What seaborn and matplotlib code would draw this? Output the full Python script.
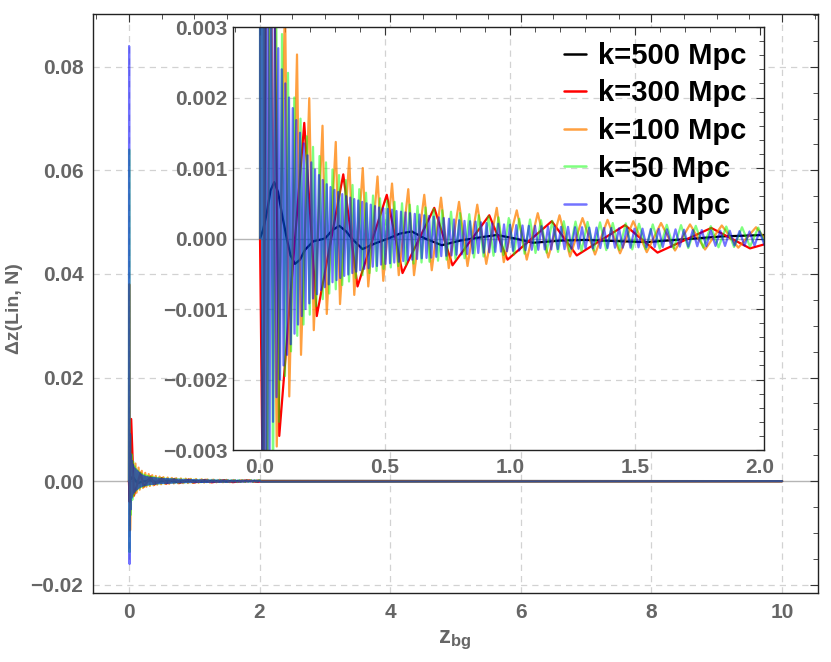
import numpy as np
import pandas as pd
import seaborn as sns
import matplotlib.pyplot as plt
from matplotlib.lines import Line2D
from matplotlib.ticker import MultipleLocator, FuncFormatter

sns.set_style("white")
plt.rcParams.update({
    "font.family": ["Liberation Sans", "DejaVu Sans"],
    "font.weight": "bold",
    "mathtext.fontset": "custom",
    "mathtext.rm": "Liberation Sans:bold",
    "mathtext.it": "Liberation Sans:bold",
    "mathtext.bf": "Liberation Sans:bold",
})

# values in units of 1e-3, turning points
z_end = 10.0

k500_z = [0.0, 0.012, 0.027, 0.042, 0.057, 0.072, 0.087, 0.107, 0.122, 0.14, 0.16, 0.18, 0.213,
          0.26, 0.29, 0.317, 0.345, 0.367, 0.41, 0.46, 0.513, 0.56, 0.607, 0.66, 0.727, 0.8, 0.85,
          0.947, 1.02, 1.093, 1.2, 1.3, 1.45, 1.55, 1.7, 1.85, 2.02]
k500_v = [0.0, 0.12, 0.36, 0.68, 0.80, 0.66, 0.36, 0.0, -0.24, -0.36, -0.30, -0.16, -0.04,
          0.0, 0.12, 0.18, 0.10, 0.0, -0.15, -0.07, 0.0, 0.07, 0.10, 0.0, -0.095, -0.03, 0.0,
          0.05, 0.0, -0.06, -0.03, -0.02, -0.04, -0.05, -0.01, 0.03, 0.05]

k300_z = [0.0, 0.012, 0.035, 0.077, 0.177, 0.227, 0.333, 0.390, 0.507, 0.570, 0.697, 0.770, 0.917,
          0.990, 1.167, 1.267, 1.460, 1.590, 1.805, 1.960, 2.03]
k300_v = [0.0, -4.0, 12.0, -2.80, 1.64, -1.10, 0.91, -0.68, 0.62, -0.49, 0.435, -0.38, 0.33,
          -0.30, 0.245, -0.24, 0.19, -0.20, 0.15, -0.14, -0.07]

k100_z = [0.0, 0.006, 0.018, 0.040, 0.067, 0.100, 0.117, 0.148, 0.164, 0.197, 0.215, 0.250, 0.267,
          0.303, 0.320, 0.357, 0.377, 0.411, 0.433, 0.470, 0.493, 0.528, 0.555, 0.593, 0.616, 0.657,
          0.687, 0.724, 0.755, 0.796, 0.830, 0.869, 0.905, 0.947, 0.975, 1.027, 1.067, 1.111, 1.153,
          1.198, 1.240, 1.290, 1.340, 1.390, 1.440, 1.493, 1.547, 1.604, 1.660, 1.720, 1.780, 1.847,
          1.913, 1.984, 2.03]
k100_v = [0.0, 38.0, -9.5, 5.0, -2.95, 3.40, -2.24, 2.61, -1.65, 1.99, -1.30, 1.60, -1.07,
          1.37, -0.93, 1.15, -0.80, 1.00, -0.68, 0.88, -0.60, 0.78, -0.52, 0.70, -0.52, 0.62,
          -0.45, 0.58, -0.42, 0.52, -0.39, 0.48, -0.36, 0.435, -0.335, 0.40, -0.30, 0.36, -0.27,
          0.33, -0.255, 0.29, -0.227, 0.265, -0.21, 0.245, -0.194, 0.22, -0.17, 0.20, -0.156, 0.185,
          -0.13, 0.16, -0.05]

k50_peak_z = [0.004, 0.018, 0.040, 0.064, 0.088, 0.112, 0.137, 0.162, 0.187, 0.212, 0.238, 0.264,
              0.29, 0.316, 0.343, 0.37, 0.397, 0.424, 0.452, 0.48, 0.509, 0.538, 0.568, 0.599, 0.63,
              0.662, 0.695, 0.729, 0.764, 0.8, 0.837, 0.875, 0.914, 0.954, 0.995, 1.037, 1.08, 1.124,
              1.169, 1.215, 1.262, 1.31, 1.36, 1.411, 1.463, 1.516, 1.571, 1.627, 1.684, 1.743,
              1.803, 1.865, 1.928, 1.993]
k50_peak_v = [64.0, 9.0, 5.2, 3.8, 2.9, 2.35, 2.0, 1.7, 1.45, 1.3, 1.17, 1.08, 0.98, 0.9, 0.83,
              0.76, 0.70, 0.65, 0.61, 0.57, 0.54, 0.52, 0.50, 0.48, 0.46, 0.44, 0.42, 0.40, 0.38,
              0.36, 0.345, 0.33, 0.315, 0.30, 0.29, 0.28, 0.27, 0.26, 0.25, 0.245, 0.24, 0.235,
              0.23, 0.22, 0.215, 0.21, 0.20, 0.195, 0.19, 0.18, 0.175, 0.17, 0.16, 0.155]
k50_trough_z = [0.010, 0.029, 0.052, 0.076, 0.1, 0.124, 0.149, 0.174, 0.199, 0.225, 0.251, 0.277,
                0.303, 0.329, 0.356, 0.383, 0.41, 0.438, 0.466, 0.494, 0.523, 0.553, 0.583, 0.614,
                0.646, 0.678, 0.712, 0.746, 0.782, 0.818, 0.856, 0.894, 0.934, 0.974, 1.016, 1.058,
                1.102, 1.146, 1.192, 1.238, 1.286, 1.335, 1.385, 1.437, 1.489, 1.543, 1.599, 1.655,
                1.713, 1.773, 1.834, 1.896, 1.96, 2.025]
k50_trough_v = [-13.7, -6.5, -3.6, -2.6, -1.95, -1.6, -1.38, -1.22, -1.08, -0.96, -0.86, -0.78,
                -0.72, -0.66, -0.61, -0.56, -0.52, -0.49, -0.46, -0.43, -0.41, -0.39, -0.37, -0.355,
                -0.34, -0.33, -0.315, -0.30, -0.29, -0.28, -0.27, -0.255, -0.245, -0.235, -0.225,
                -0.215, -0.205, -0.2, -0.19, -0.185, -0.18, -0.17, -0.165, -0.16, -0.155, -0.15,
                -0.145, -0.14, -0.135, -0.13, -0.125, -0.12, -0.115, -0.11]

k30_peak_z = [0.003, 0.017, 0.031, 0.045, 0.059, 0.073, 0.087, 0.101, 0.116, 0.131, 0.145, 0.160,
              0.175, 0.190, 0.205, 0.220, 0.236, 0.251, 0.267, 0.282, 0.298, 0.313, 0.329, 0.345,
              0.361, 0.377, 0.393, 0.409, 0.426, 0.443, 0.460, 0.476, 0.493, 0.511, 0.528, 0.546,
              0.564, 0.582, 0.600, 0.619, 0.638, 0.657, 0.676, 0.695, 0.715, 0.735, 0.756, 0.776,
              0.797, 0.818, 0.840, 0.862, 0.884, 0.906, 0.929, 0.953, 0.976, 1.000, 1.025, 1.050,
              1.075, 1.100, 1.126, 1.152, 1.178, 1.204, 1.232, 1.260, 1.288, 1.317, 1.346, 1.376,
              1.405, 1.436, 1.467, 1.498, 1.530, 1.563, 1.595, 1.628, 1.662, 1.696, 1.731, 1.767,
              1.803, 1.841, 1.879, 1.918, 1.958, 1.998]
k30_peak_v = [84.0, 9.0, 5.0, 3.9, 3.2, 2.7, 2.4, 2.2, 2.0, 1.85, 1.68, 1.5, 1.35, 1.18, 1.08,
              0.98, 0.9, 0.83, 0.77, 0.73, 0.69, 0.66, 0.63, 0.60, 0.58, 0.56, 0.54, 0.52, 0.50,
              0.48, 0.46, 0.44, 0.43, 0.42, 0.41, 0.39, 0.38, 0.37, 0.36, 0.35, 0.34, 0.33, 0.32,
              0.31, 0.30, 0.29, 0.28, 0.27, 0.26, 0.25, 0.245, 0.24, 0.23, 0.22, 0.215, 0.21, 0.20,
              0.195, 0.19, 0.185, 0.18, 0.18, 0.175, 0.17, 0.17, 0.165, 0.165, 0.16, 0.16, 0.155,
              0.155, 0.15, 0.15, 0.145, 0.145, 0.14, 0.14, 0.135, 0.135, 0.13, 0.13, 0.125, 0.12,
              0.12, 0.115, 0.11, 0.11, 0.105, 0.10, 0.10]
k30_trough_z = [0.010, 0.024, 0.038, 0.052, 0.066, 0.080, 0.094, 0.108, 0.123, 0.138, 0.152, 0.167,
                0.182, 0.197, 0.212, 0.228, 0.244, 0.259, 0.275, 0.290, 0.306, 0.321, 0.337, 0.353,
                0.369, 0.385, 0.401, 0.417, 0.434, 0.451, 0.468, 0.484, 0.502, 0.520, 0.537, 0.555,
                0.573, 0.591, 0.609, 0.628, 0.647, 0.666, 0.685, 0.705, 0.725, 0.745, 0.766, 0.786,
                0.807, 0.829, 0.851, 0.873, 0.895, 0.917, 0.941, 0.964, 0.988, 1.012, 1.037, 1.062,
                1.087, 1.113, 1.139, 1.165, 1.191, 1.218, 1.246, 1.274, 1.302, 1.331, 1.361, 1.390,
                1.420, 1.451, 1.482, 1.514, 1.546, 1.579, 1.611, 1.645, 1.679, 1.713, 1.749, 1.785,
                1.822, 1.860, 1.898, 1.938, 1.978, 2.018]
k30_trough_v = [-16.0, -5.5, -3.3, -2.6, -2.25, -2.0, -1.8, -1.65, -1.5, -1.35, -1.22, -1.1, -1.0,
                -0.92, -0.85, -0.79, -0.73, -0.69, -0.65, -0.62, -0.59, -0.56, -0.53, -0.51, -0.49,
                -0.47, -0.45, -0.43, -0.42, -0.40, -0.39, -0.37, -0.36, -0.35, -0.34, -0.33, -0.32,
                -0.31, -0.30, -0.29, -0.28, -0.275, -0.27, -0.26, -0.25, -0.245, -0.24, -0.23, -0.225,
                -0.22, -0.21, -0.205, -0.2, -0.195, -0.19, -0.185, -0.18, -0.175, -0.17, -0.165,
                -0.16, -0.16, -0.155, -0.155, -0.15, -0.15, -0.145, -0.145, -0.14, -0.14, -0.135,
                -0.135, -0.13, -0.13, -0.13, -0.125, -0.125, -0.12, -0.12, -0.12, -0.115, -0.115,
                -0.11, -0.11, -0.105, -0.105, -0.1, -0.1, -0.1, -0.095]

labels = ["k=500 Mpc", "k=300 Mpc", "k=100 Mpc", "k=50 Mpc", "k=30 Mpc"]
colors = ["#000000", "#ff0000", "#ff8000", "#00ff00", "#0000ff"]
alphas = [1.0, 1.0, 0.75, 0.5, 0.55]


def curve(z, v):
    z = list(z) + [z_end]
    v = list(v) + [0.0]
    return pd.DataFrame({"z": z, "dz": np.array(v) * 1e-3})


def oscillation(pz, pv, tz, tv):
    z = np.concatenate([[0.0], pz, tz])
    v = np.concatenate([[0.0], pv, tv])
    idx = np.argsort(z)
    return curve(z[idx], v[idx])


frames = [
    curve(k500_z, k500_v),
    curve(k300_z, k300_v),
    curve(k100_z, k100_v),
    oscillation(k50_peak_z, k50_peak_v, k50_trough_z, k50_trough_v),
    oscillation(k30_peak_z, k30_peak_v, k30_trough_z, k30_trough_v),
]

label_col = "#666666"
grid_kw = dict(color="#d2d2d2", lw=0.9, ls=(0, (5, 4)), zorder=0)


def draw_curves(ax):
    for df, c, a in zip(frames, colors, alphas):
        sns.lineplot(data=df, x="z", y="dz", ax=ax, color=c, alpha=a, linewidth=1.6,
                     estimator=None, sort=False, legend=False)
    ax.set_xlabel("")
    ax.set_ylabel("")


def frame_style(ax, xmaj, xmin, ymaj, ymin, xfmt, yfmt, pad):
    ax.xaxis.set_major_locator(MultipleLocator(xmaj))
    ax.xaxis.set_minor_locator(MultipleLocator(xmin))
    ax.yaxis.set_major_locator(MultipleLocator(ymaj))
    ax.yaxis.set_minor_locator(MultipleLocator(ymin))
    ax.xaxis.set_major_formatter(FuncFormatter(lambda x, p: xfmt.format(x).replace("-", "\u2212")))
    ax.yaxis.set_major_formatter(FuncFormatter(lambda y, p: yfmt.format(y).replace("-", "\u2212")))
    ax.tick_params(which="both", direction="in", top=True, right=True, color="#333333",
                   labelcolor=label_col, labelsize=15)
    ax.tick_params(which="major", length=6, width=0.8)
    ax.tick_params(which="minor", length=3.5, width=0.6)
    ax.tick_params(axis="x", pad=pad[0])
    ax.tick_params(axis="y", pad=pad[1])
    for s in ax.spines.values():
        s.set_color("#222222")
        s.set_linewidth(1.0)
    for lab in ax.get_xticklabels() + ax.get_yticklabels():
        lab.set_fontweight("bold")


fig = plt.figure(figsize=(8.31, 6.62), dpi=100)

# main panel
ax = fig.add_axes([0.1119, 0.1042, 0.8725, 0.8747])
for x in range(0, 11, 2):
    ax.axvline(x, **grid_kw)
for y in [-0.02, 0.02, 0.04, 0.06, 0.08]:
    ax.axhline(y, **grid_kw)
ax.axhline(0, color="#b5b5b5", lw=1.0, zorder=0.5)
draw_curves(ax)
ax.set_xlim(-0.55, 10.55)
ax.set_ylim(-0.0216, 0.0902)
frame_style(ax, 2, 0.5, 0.02, 0.005, "{:.0f}", "{:.2f}", (7, 7))

# inset
axi = fig.add_axes([0.2804, 0.3202, 0.639, 0.639])
axi.set_facecolor("white")
for x in [0.5, 1.0, 1.5]:
    axi.axvline(x, **grid_kw)
for y in [-0.002, -0.001, 0.001, 0.002]:
    axi.axhline(y, **grid_kw)
axi.axhline(0, color="#b5b5b5", lw=1.0, zorder=0.5)
draw_curves(axi)
axi.set_xlim(-0.108, 2.016)
axi.set_ylim(-0.003, 0.003)
frame_style(axi, 0.5, 0.1, 0.001, 0.0002, "{:.1f}", "{:.3f}", (6, 4))

handles = [Line2D([], [], color=c, alpha=a, lw=1.8) for c, a in zip(colors, alphas)]
leg = axi.legend(handles, labels, loc="upper right", bbox_to_anchor=(0.966, 0.965),
                 frameon=False, handlelength=0.75, handletextpad=0.4, labelspacing=0.33,
                 borderpad=0, borderaxespad=0, prop={"size": 21, "weight": "bold"})
for t in leg.get_texts():
    t.set_color("black")

fig.text(15 / 831, 1 - 309 / 662, "\u0394z(Lin, N)", rotation=90, ha="center", va="center",
         fontsize=14, color=label_col, fontweight="bold")
fig.text(455 / 831, 1 - 640 / 662, r"$\mathbf{z}_{\mathbf{bg}}$", ha="center", va="center",
         fontsize=17, color=label_col)

fig.savefig("out.png", dpi=100)
